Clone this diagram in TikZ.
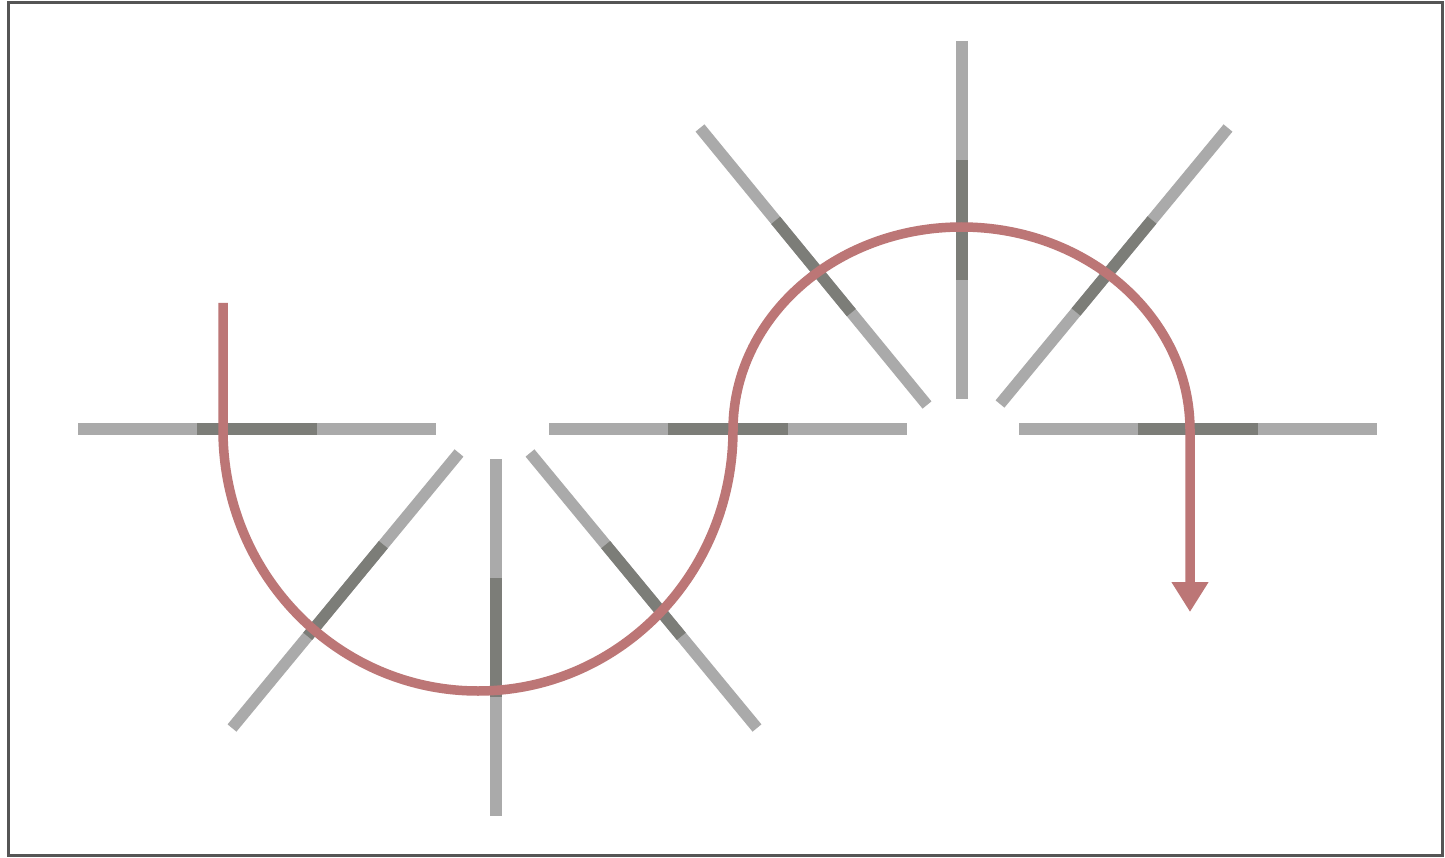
\documentclass[tikz,border=0pt]{standalone}
\usetikzlibrary{calc,arrows.meta}
\definecolor{spokelight}{RGB}{170,170,170}
\definecolor{spokedark}{RGB}{124,125,120}
\definecolor{curvered}{RGB}{188,118,118}
\definecolor{framegray}{RGB}{85,85,85}
\tikzset{
  spokeline/.style={line width=11.5pt, spokelight},
  spokemid/.style={line width=11.5pt, spokedark},
  redcurve/.style={line width=9.5pt, curvered, line join=round},
  framebox/.style={line width=3pt, framegray}
}
\newcommand{\myspoke}[2]{%
  \draw[spokeline] (#1) -- (#2);
  \draw[spokemid] ($(#1)!1/3!(#2)$) -- ($(#1)!2/3!(#2)$);
}
\begin{document}
\begin{tikzpicture}[x=1pt,y=-1pt]
\useasboundingbox (0,0) rectangle (1445,858);
\fill[white] (0,0) rectangle (1445,858);
\draw[framebox] (8.5,3) rectangle (1442,855);
% lower fan
\myspoke{78,429}{436,429}
\myspoke{459,453}{232,728}
\myspoke{496,459}{496,816}
\myspoke{530,453}{757,728}
\myspoke{549,429}{907,429}
% upper fan
\myspoke{962,41}{962,399}
\myspoke{700,128}{927,405}
\myspoke{1228,128}{1000,404}
\myspoke{1019,429}{1377,429}
% red curve
\coordinate (s) at (223,303);
\coordinate (a) at (223,430);
\coordinate (e) at (1190,612);
\draw[redcurve, -{Triangle[length=30pt,width=35pt]}]
  (s) -- (a)
  arc[start angle=180, end angle=0, x radius=255, y radius=261]
  arc[start angle=180, end angle=360, x radius=228.5, y radius=203]
  -- (e);
\end{tikzpicture}
\end{document}
